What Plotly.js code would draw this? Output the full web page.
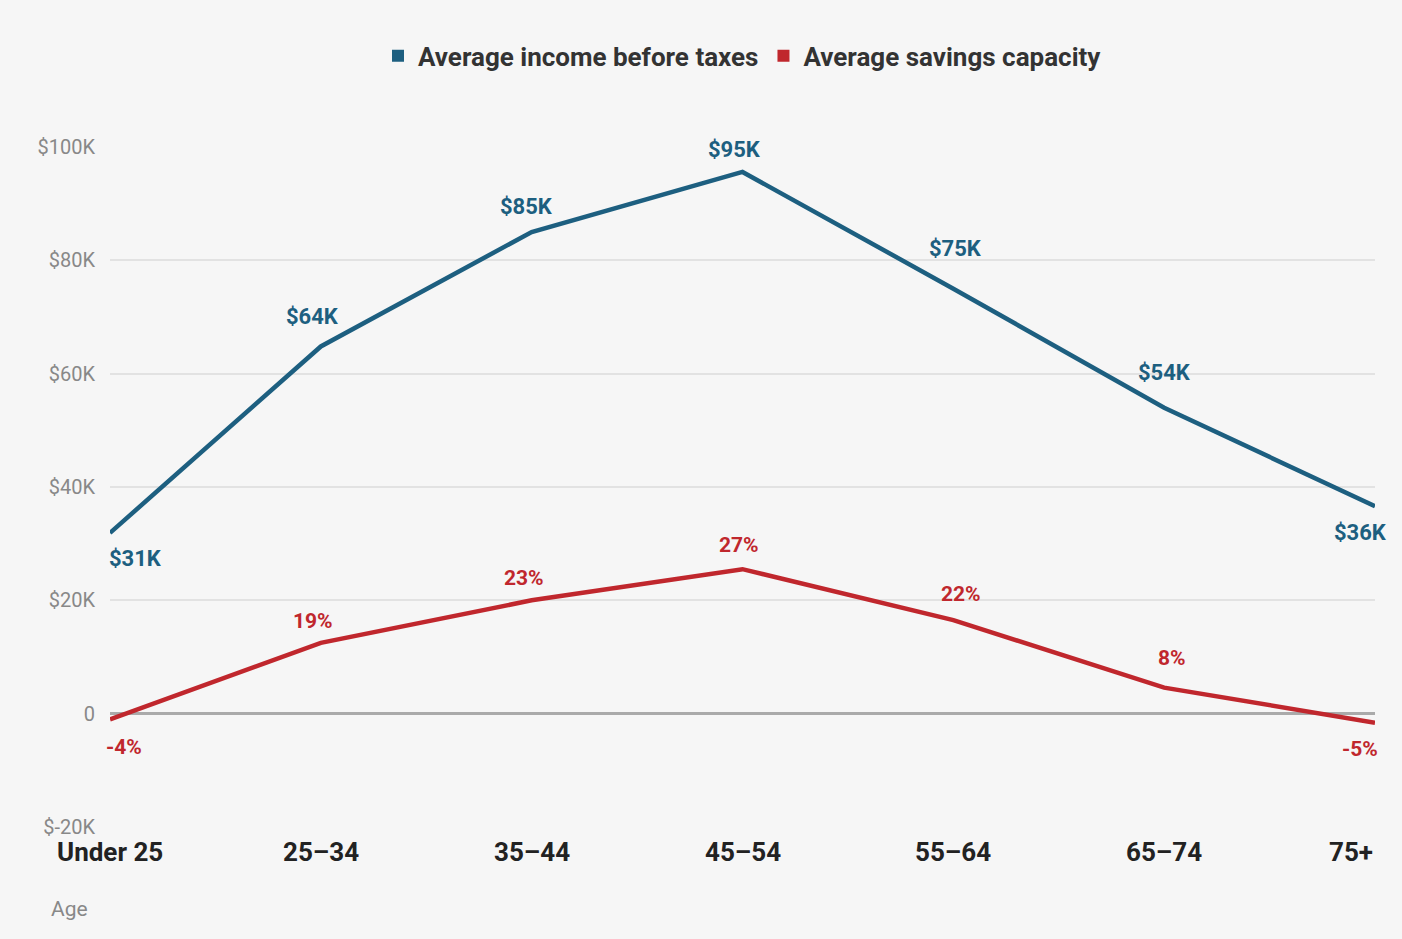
<!DOCTYPE html>
<html><head><script src="https://cdn.plot.ly/plotly-3.0.1.min.js"></script>
<style>body{margin:0;background:#fff}</style></head>
<body><div id="chart" style="width:1402px;height:939px"></div>
<script>
var ages = ['Under 25', '25–34', '35–44', '45–54', '55–64', '65–74', '75+'];
var income = [31900, 64800, 85000, 95600, 75000, 54000, 36600];
var incomeLabels = ['$31K', '$64K', '$85K', '$95K', '$75K', '$54K', '$36K'];
var savings = [-1000, 12500, 20000, 25500, 16500, 4600, -1600];
var savingsLabels = ['-4%', '19%', '23%', '27%', '22%', '8%', '-5%'];
var blue = '#1d5f80', red = '#c0272d';

// label offsets in pixels (dx, dy)
var incomeOff = [[25, -26], [-8, 30], [-5, 26], [-8, 22], [2, 40], [0, 35], [-15, -26]];
var savingsOff = [[14, -28], [-8, 22], [-8, 22], [-4, 24], [8, 26], [8, 30], [-15, -26]];

var traces = [
  {x: ages, y: income, type: 'scatter', mode: 'lines', line: {color: blue, width: 4.5}, showlegend: false, hoverinfo: 'skip'},
  {x: ages, y: savings, type: 'scatter', mode: 'lines', line: {color: red, width: 4.5}, showlegend: false, hoverinfo: 'skip'},
  {x: [null], y: [null], type: 'bar', name: 'Average income before taxes', marker: {color: blue}},
  {x: [null], y: [null], type: 'bar', name: 'Average savings capacity', marker: {color: red}}
];

var ann = [];
ages.forEach(function (a, i) {
  ann.push({x: a, y: income[i], text: incomeLabels[i], showarrow: false, xshift: incomeOff[i][0], yshift: incomeOff[i][1],
    font: {color: blue, size: 22, family: 'Roboto', weight: 'bold'}});
  ann.push({x: a, y: savings[i], text: savingsLabels[i], showarrow: false, xshift: savingsOff[i][0], yshift: savingsOff[i][1],
    font: {color: red, size: 21, family: 'Roboto', weight: 'bold'}});
  var xa = i === 0 ? 'center' : (i === 6 ? 'right' : 'center');
  ann.push({x: a, y: 0, yref: 'paper', text: '<b>' + a + '</b>', showarrow: false, yanchor: 'top', yshift: -8,
    xanchor: xa, xshift: i === 0 ? 0 : 0, font: {size: 26, color: '#222'}});
});
ann.push({text: 'Age', xref: 'paper', yref: 'paper', x: -0.048, y: -0.1, xanchor: 'left', yanchor: 'top',
  showarrow: false, font: {size: 21, color: '#888'}});

Plotly.newPlot('chart', traces, {
  width: 1402, height: 939,
  paper_bgcolor: '#f6f6f6', plot_bgcolor: '#f6f6f6',
  margin: {l: 110, r: 27, t: 147, b: 112},
  font: {family: 'Roboto', color: '#333'},
  showlegend: true,
  legend: {orientation: 'h', x: 0.5, xanchor: 'center', y: 1.134, yanchor: 'middle',
    font: {size: 26, color: '#333', weight: 'bold'}},
  xaxis: {type: 'category', range: [0, 6], showgrid: false, zeroline: false, showticklabels: false, ticks: ''},
  yaxis: {range: [-20000, 100000], gridcolor: '#e2e2e2', gridwidth: 1.5,
    zeroline: true, zerolinecolor: '#aaa', zerolinewidth: 2.5,
    tickvals: [-20000, 0, 20000, 40000, 60000, 80000, 100000],
    ticktext: ['$-20K', '0', '$20K', '$40K', '$60K', '$80K', '$100K'],
    tickfont: {size: 20, color: '#888'}, ticklabelstandoff: 14},
  annotations: ann
}, {displayModeBar: false});
</script></body></html>
